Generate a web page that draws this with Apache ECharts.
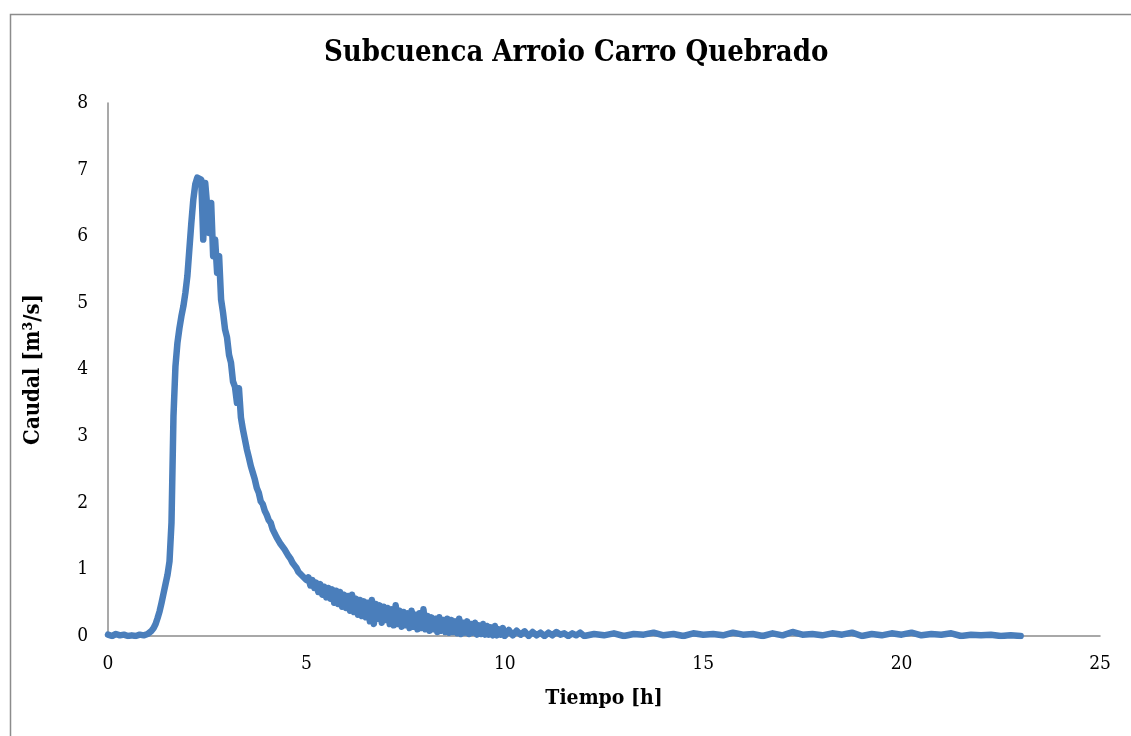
<!DOCTYPE html>
<html>
<head>
<meta charset="utf-8">
<script src="https://cdn.jsdelivr.net/npm/echarts@6/dist/echarts.min.js"></script>
<style>
  html, body { margin: 0; padding: 0; background: #ffffff; }
  #chart { width: 1131px; height: 736px; }
</style>
</head>
<body>
<div id="chart"></div>
<script>
// ---- data (time in hours, flow in m3/s) ----
const timesA = [0.0, 0.1, 0.2, 0.3, 0.4, 0.5, 0.6, 0.7, 0.8, 0.9, 1.0];
const flowA  = [0.02, 0.00, 0.03, 0.01, 0.02, 0.00, 0.01, 0.00, 0.02, 0.01, 0.03];

const timesB = [1.05, 1.10, 1.15, 1.20, 1.25, 1.30, 1.35, 1.40, 1.45, 1.50,
                1.55, 1.60, 1.65, 1.70, 1.75, 1.80, 1.85, 1.90, 1.95, 2.00,
                2.05, 2.10, 2.15, 2.20, 2.25, 2.30, 2.35, 2.40, 2.45, 2.50,
                2.55, 2.60, 2.65, 2.70, 2.75, 2.80, 2.85, 2.90, 2.95, 3.00,
                3.05, 3.10, 3.15, 3.20, 3.25, 3.30, 3.35, 3.40, 3.45, 3.50];
const flowB  = [0.05, 0.08, 0.12, 0.18, 0.27, 0.37, 0.50, 0.64, 0.78, 0.92,
                1.12, 1.70, 3.30, 4.05, 4.40, 4.62, 4.80, 4.95, 5.15, 5.40,
                5.80, 6.20, 6.55, 6.78, 6.88, 6.90, 6.85, 5.95, 6.80, 6.45,
                6.05, 6.50, 5.70, 5.95, 5.45, 5.70, 5.05, 4.85, 4.60, 4.48,
                4.22, 4.10, 3.82, 3.74, 3.50, 3.72, 3.28, 3.10, 2.95, 2.80];

const timesC = [3.55, 3.60, 3.65, 3.70, 3.75, 3.80, 3.85, 3.90, 3.95, 4.00,
                4.05, 4.10, 4.15, 4.20, 4.25, 4.30, 4.35, 4.40, 4.45, 4.50,
                4.55, 4.60, 4.65, 4.70, 4.75, 4.80, 4.85, 4.90, 4.95, 5.00,
                5.05, 5.10, 5.15, 5.20, 5.25, 5.30, 5.35, 5.40, 5.45, 5.50,
                5.55, 5.60, 5.65, 5.70, 5.75, 5.80, 5.85, 5.90, 5.95, 6.00,
                6.05, 6.10, 6.15, 6.20, 6.25, 6.30, 6.35, 6.40, 6.45, 6.50,
                6.55, 6.60, 6.65, 6.70, 6.75, 6.80, 6.85, 6.90, 6.95, 7.00,
                7.05, 7.10, 7.15, 7.20, 7.25, 7.30, 7.35, 7.40, 7.45, 7.50,
                7.55, 7.60, 7.65, 7.70, 7.75, 7.80, 7.85, 7.90, 7.95, 8.00,
                8.05, 8.10, 8.15, 8.20, 8.25, 8.30, 8.35, 8.40, 8.45, 8.50,
                8.55, 8.60, 8.65, 8.70, 8.75, 8.80, 8.85, 8.90, 8.95, 9.00,
                9.05, 9.10, 9.15, 9.20, 9.25, 9.30, 9.35, 9.40, 9.45, 9.50,
                9.55, 9.60, 9.65, 9.70, 9.75, 9.80, 9.85, 9.90, 9.95, 10.00];
const flowC  = [2.68, 2.55, 2.45, 2.35, 2.22, 2.15, 2.02, 1.98, 1.88, 1.82,
                1.74, 1.70, 1.60, 1.58, 1.48, 1.45, 1.38, 1.40, 1.30, 1.27,
                1.20, 1.16, 1.10, 1.06, 1.02, 0.96, 0.98, 0.90, 0.92, 0.84,
                0.88, 0.76, 0.84, 0.72, 0.80, 0.66, 0.78, 0.62, 0.74, 0.58,
                0.72, 0.56, 0.70, 0.50, 0.68, 0.48, 0.66, 0.44, 0.62, 0.42,
                0.60, 0.38, 0.62, 0.36, 0.56, 0.32, 0.54, 0.30, 0.52, 0.28,
                0.50, 0.22, 0.54, 0.18, 0.48, 0.26, 0.46, 0.20, 0.44, 0.24,
                0.42, 0.18, 0.40, 0.16, 0.46, 0.18, 0.38, 0.14, 0.36, 0.16,
                0.34, 0.12, 0.38, 0.14, 0.32, 0.10, 0.34, 0.12, 0.40, 0.10,
                0.30, 0.08, 0.28, 0.10, 0.26, 0.06, 0.28, 0.08, 0.24, 0.06,
                0.26, 0.05, 0.24, 0.06, 0.22, 0.04, 0.26, 0.03, 0.20, 0.05,
                0.22, 0.03, 0.18, 0.05, 0.20, 0.02, 0.16, 0.03, 0.18, 0.02,
                0.15, 0.02, 0.13, 0.01, 0.15, 0.01, 0.10, 0.02, 0.12, 0.00];

const timesD = [10.1, 10.2, 10.3, 10.4, 10.5, 10.6, 10.7, 10.8, 10.9, 11.0,
                11.1, 11.2, 11.3, 11.4, 11.5, 11.6, 11.7, 11.8, 11.9, 12.0];
const flowD  = [0.09, 0.01, 0.08, 0.02, 0.07, 0.00, 0.06, 0.01, 0.05, 0.00,
                0.05, 0.01, 0.06, 0.02, 0.04, 0.00, 0.04, 0.01, 0.05, 0.00];

const timesE = [12.25, 12.5, 12.75, 13.0, 13.25, 13.5, 13.75, 14.0, 14.25, 14.5,
                14.75, 15.0, 15.25, 15.5, 15.75, 16.0, 16.25, 16.5, 16.75, 17.0,
                17.25, 17.5, 17.75, 18.0, 18.25, 18.5, 18.75, 19.0, 19.25, 19.5,
                19.75, 20.0, 20.25, 20.5, 20.75, 21.0, 21.25, 21.5, 21.75, 22.0,
                22.25, 22.5, 22.75, 23.0];
const flowE  = [0.03, 0.01, 0.04, 0.00, 0.03, 0.02, 0.05, 0.01, 0.03, 0.00,
                0.04, 0.02, 0.03, 0.01, 0.05, 0.02, 0.03, 0.00, 0.04, 0.01,
                0.06, 0.02, 0.03, 0.01, 0.04, 0.02, 0.05, 0.00, 0.03, 0.01,
                0.04, 0.02, 0.05, 0.01, 0.03, 0.02, 0.04, 0.00, 0.02, 0.01,
                0.02, 0.00, 0.01, 0.00];

const xTicks = [0, 5, 10, 15, 20, 25];
const yTicks = [0, 1, 2, 3, 4, 5, 6, 7, 8];

const titleText = 'Subcuenca Arroio Carro Quebrado';
const xName = 'Tiempo [h]';
const yName = 'Caudal [m\u00B3/s]';

// ---- build series data ----
function pairs(t, q) { return t.map((v, i) => [v, q[i]]); }
const seriesData = [].concat(pairs(timesA, flowA), pairs(timesB, flowB),
                             pairs(timesC, flowC), pairs(timesD, flowD),
                             pairs(timesE, flowE));

const FONT = "'DejaVu Serif Condensed', 'DejaVu Serif', 'Liberation Serif', serif";

const chart = echarts.init(document.getElementById('chart'), null, { renderer: 'canvas' });
chart.setOption({
  backgroundColor: '#ffffff',
  animation: false,
  title: {
    text: titleText,
    left: 324,
    top: 39,
    padding: 0,
    textStyle: { fontFamily: FONT, fontWeight: 'bold', fontSize: 29, color: '#000' }
  },
  graphic: [{
    type: 'rect',
    left: 8, top: 12,
    shape: { width: 1140, height: 800 },
    style: { fill: 'none', stroke: '#8c8c8c', lineWidth: 1.5 },
    silent: true
  }],
  grid: { left: 108, right: 31, top: 103, bottom: 100 },
  xAxis: {
    type: 'value',
    min: xTicks[0], max: xTicks[xTicks.length - 1], interval: 5,
    name: xName,
    nameLocation: 'middle',
    nameGap: 52,
    nameTextStyle: { fontFamily: FONT, fontWeight: 'bold', fontSize: 21, color: '#000' },
    axisLine: { lineStyle: { color: '#8c8c8c', width: 1.5 } },
    axisTick: { show: false },
    splitLine: { show: false },
    axisLabel: { fontFamily: FONT, fontSize: 19, color: '#000', margin: 19 }
  },
  yAxis: {
    type: 'value',
    min: yTicks[0], max: yTicks[yTicks.length - 1], interval: 1,
    name: yName,
    nameLocation: 'middle',
    nameGap: 64,
    nameRotate: 90,
    nameTextStyle: { fontFamily: FONT, fontWeight: 'bold', fontSize: 22, color: '#000' },
    axisLine: { show: true, lineStyle: { color: '#8c8c8c', width: 1.5 } },
    axisTick: { show: false },
    splitLine: { show: false },
    axisLabel: { fontFamily: FONT, fontSize: 19, color: '#000', margin: 20 }
  },
  series: [{
    type: 'line',
    data: seriesData,
    showSymbol: false,
    symbol: 'none',
    lineStyle: { color: '#4a7ebb', width: 6.5, join: 'round', cap: 'round' },
    z: 3
  }]
});
</script>
</body>
</html>
